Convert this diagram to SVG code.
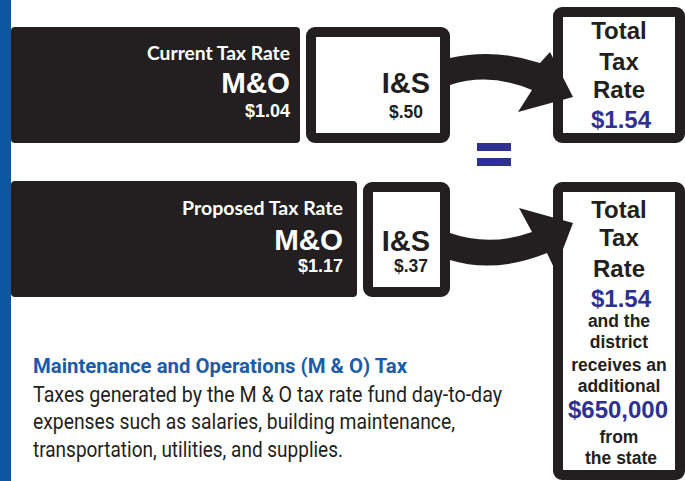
<svg xmlns="http://www.w3.org/2000/svg" width="685" height="481" viewBox="0 0 685 481">
  <style>
    .dark { fill: #231f20; }
    .frame { fill: #ffffff; stroke: #231f20; stroke-width: 10; }
    .lbl { font-family: "Lato", "Liberation Sans", sans-serif; font-weight: bold; fill: #ffffff; }
    .big { font-family: "Liberation Sans", Arial, sans-serif; font-weight: bold; }
    .w { fill: #ffffff; }
    .k { fill: #231f20; }
    .blue { fill: #2e3192; }
    .mid { text-anchor: middle; }
    .end { text-anchor: end; }
    .head { font-family: "Roboto", "Liberation Sans", sans-serif; font-weight: bold; font-size: 21px; fill: #1b5ca8; }
    .body { font-family: "Roboto", "Liberation Sans", sans-serif; font-size: 21.5px; fill: #231f20; }
  </style>

  <!-- side accent bar -->
  <rect x="0" y="0" width="11" height="481" fill="#0b57a4"/>

  <!-- current rate: M&O -->
  <g id="current-mo">
    <rect class="dark" x="11" y="27" width="289" height="116" rx="4"/>
    <text class="lbl end" x="290" y="60" font-size="18" textLength="143" lengthAdjust="spacingAndGlyphs">Current Tax Rate</text>
    <text class="big w end" x="290" y="93" font-size="29.5">M&amp;O</text>
    <text class="big w end" x="290" y="117" font-size="18">$1.04</text>
  </g>

  <!-- current rate: I&S -->
  <g id="current-is">
    <rect class="frame" x="311" y="32" width="134" height="106" rx="4"/>
    <text class="big k end" x="430" y="93" font-size="29">I&amp;S</text>
    <text class="big k mid" x="406" y="118" font-size="17.5">$.50</text>
  </g>

  <!-- current total -->
  <g id="current-total">
    <rect class="frame" x="558" y="12" width="122" height="126" rx="4"/>
    <text class="big k mid" x="619" y="39" font-size="24">Total</text>
    <text class="big k mid" x="619" y="70" font-size="24">Tax</text>
    <text class="big k mid" x="619" y="98" font-size="24">Rate</text>
    <text class="big blue mid" x="621" y="128" font-size="24">$1.54</text>
  </g>

  <!-- equals sign -->
  <g id="equals" fill="#2e3192">
    <rect x="477" y="143" width="34" height="8"/>
    <rect x="477" y="158" width="34" height="8"/>
  </g>

  <!-- proposed rate: M&O -->
  <g id="proposed-mo">
    <rect class="dark" x="11" y="181" width="346" height="116" rx="4"/>
    <text class="lbl end" x="343" y="215" font-size="18" textLength="161" lengthAdjust="spacingAndGlyphs">Proposed Tax Rate</text>
    <text class="big w end" x="343" y="250" font-size="29.5">M&amp;O</text>
    <text class="big w end" x="343" y="272" font-size="18">$1.17</text>
  </g>

  <!-- proposed rate: I&S -->
  <g id="proposed-is">
    <rect class="frame" x="368" y="187" width="77" height="105" rx="4"/>
    <text class="big k end" x="430" y="251" font-size="29">I&amp;S</text>
    <text class="big k end" x="428" y="272" font-size="17.5">$.37</text>
  </g>

  <!-- proposed total -->
  <g id="proposed-total">
    <rect class="frame" x="558" y="187" width="122" height="288" rx="4"/>
    <text class="big k mid" x="619" y="218" font-size="24">Total</text>
    <text class="big k mid" x="619" y="246" font-size="24">Tax</text>
    <text class="big k mid" x="619" y="277" font-size="24">Rate</text>
    <text class="big blue mid" x="621" y="307" font-size="24">$1.54</text>
    <text class="big k mid" x="619" y="327" font-size="17.5">and the</text>
    <text class="big k mid" x="619" y="348" font-size="17.5">district</text>
    <text class="big k mid" x="619" y="371" font-size="17.5">receives an</text>
    <text class="big k mid" x="619" y="392" font-size="17.5">additional</text>
    <text class="big blue mid" x="618" y="418" font-size="24">$650,000</text>
    <text class="big k mid" x="619" y="443" font-size="17.5">from</text>
    <text class="big k mid" x="621" y="464" font-size="17.5">the state</text>
  </g>

  <!-- curved arrows from I&S into the totals -->
  <g id="connectors" class="dark">
    <path d="M450,58 Q495,48 540,63 L550,52 L573,97 L518,112 L532,90 Q490,72 450,85 Z"/>
    <path d="M450,233 Q490,247 532,232 L519,208 L573,223 L555,270 L547,253 Q495,274 450,260 Z"/>
  </g>

  <!-- explanatory note -->
  <g id="note">
    <text class="head" x="33" y="373" textLength="374" lengthAdjust="spacingAndGlyphs">Maintenance and Operations (M &amp; O) Tax</text>
    <text class="body" x="33" y="402" textLength="469" lengthAdjust="spacingAndGlyphs">Taxes generated by the M &amp; O tax rate fund day-to-day</text>
    <text class="body" x="33" y="429" textLength="422" lengthAdjust="spacingAndGlyphs">expenses such as salaries, building maintenance,</text>
    <text class="body" x="33" y="457" textLength="310" lengthAdjust="spacingAndGlyphs">transportation, utilities, and supplies.</text>
  </g>
</svg>
